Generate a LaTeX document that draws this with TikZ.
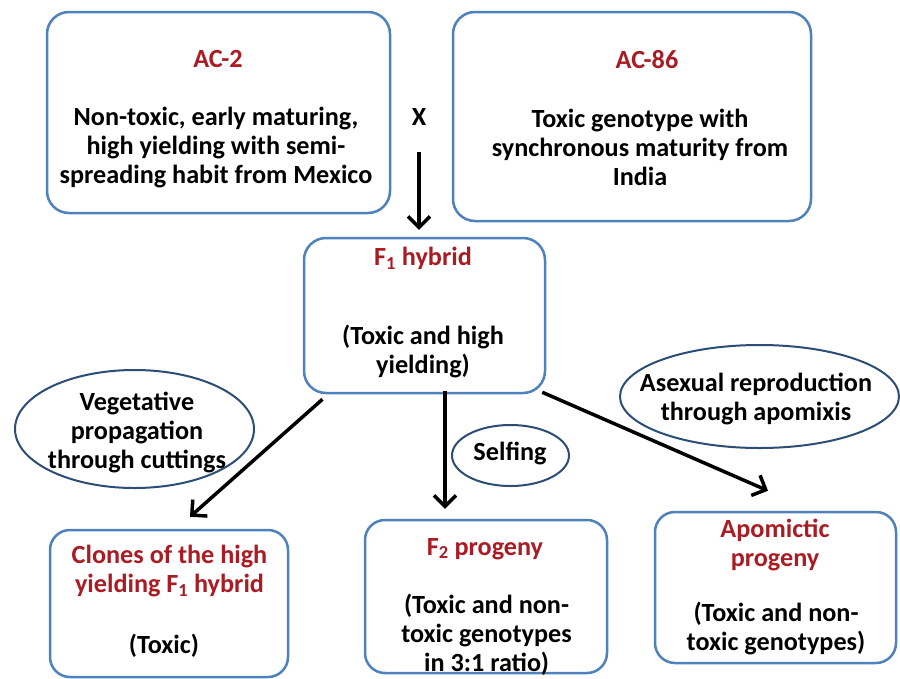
\documentclass[tikz,border=0pt]{standalone}
\usepackage{fontspec}
\setmainfont{Carlito}
\usetikzlibrary{shapes.geometric,arrows.meta,calc}
\definecolor{boxblue}{RGB}{79,129,189}
\definecolor{ovalblue}{RGB}{44,77,117}
\definecolor{titlered}{RGB}{170,28,36}
\newcommand\ls{\rule[-0.25em]{0pt}{0.75em}}
\begin{document}
\begin{tikzpicture}[x=1pt,y=-1pt,
  every node/.style={font=\fontsize{26.2}{29}\selectfont\bfseries},
  stagebox/.style={draw=boxblue, line width=2.5pt, rounded corners=22pt, fill=white, inner sep=0pt},
  oval/.style={draw=ovalblue, ellipse, line width=2pt, inner sep=0pt},
  txt/.style={align=center, inner sep=0pt, text=black},
  ttl/.style={txt, text=titlered},
  arr/.style={line width=3.5pt, -{Straight Barb[length=11pt,width=22pt]}}]
\useasboundingbox[fill=white] (0,0) rectangle (900,678);

% boxes
\node[stagebox, minimum width=343pt, minimum height=201pt] (ac2) at (218.5,112.5) {};
\node[stagebox, minimum width=358pt, minimum height=209pt] (ac86) at (632,116.5) {};
\node[stagebox, minimum width=241pt, minimum height=155pt] (f1) at (424.5,315.5) {};
\node[stagebox, minimum width=238pt, minimum height=147pt, rounded corners=20pt] (clones) at (169,603.5) {};
\node[stagebox, minimum width=242pt, minimum height=153pt, rounded corners=20pt] (f2) at (486,596.5) {};
\node[stagebox, minimum width=241pt, minimum height=151pt, rounded corners=20pt] (apo) at (775.5,587.5) {};

% ovals
\node[oval, minimum width=239pt, minimum height=118pt] (veg) at (134.5,429) {};
\node[oval, minimum width=117pt, minimum height=61pt] (self) at (510.5,455.5) {};
\node[oval, minimum width=279pt, minimum height=103pt] (asex) at (759.5,396.5) {};

% texts
\node[ttl] (ac2t) at (218,62) {\ls AC-2};
\node[txt] (ac2b) at (216,149) {\ls Non-toxic, early maturing,\\ \ls high yielding with semi-\\ \ls spreading habit from Mexico};
\node[ttl] (ac86t) at (647,63) {\ls AC-86};
\node[txt] (ac86b) at (640,151) {\ls Toxic genotype with\\ \ls synchronous maturity from\\ \ls India};
\node[txt] (cross) at (419,120) {\ls X};
\node[ttl] (f1t) at (423,260) {\ls F\textsubscript{1} hybrid};
\node[txt] (f1b) at (423,352.5) {\ls (Toxic and high\\ \ls yielding)};
\node[txt] (vegt) at (137,433.5) {\ls Vegetative\\ \ls propagation\\ \ls through cuttings};
\node[txt] (selft) at (510,455) {\ls Selfing};
\node[txt] (asext) at (756,400) {\ls Asexual reproduction\\ \ls through apomixis};
\node[ttl] (clonest) at (169.5,572) {\ls Clones of the high\\ \ls yielding F\textsubscript{1} hybrid};
\node[txt] (clonesb) at (164,647) {\ls (Toxic)};
\node[ttl] (f2t) at (485,550) {\ls F\textsubscript{2} progeny};
\node[txt] (f2b) at (486.5,636) {\ls (Toxic and non-\\ \ls toxic genotypes\\ \ls in 3:1 ratio)};
\node[ttl] (apot) at (775,546) {\ls Apomictic\\ \ls progeny};
\node[txt] (apob) at (776,630) {\ls (Toxic and non-\\ \ls toxic genotypes)};

% connectors
\coordinate (xs) at (419,152);
\draw[arr] (xs) -- ($(xs |- f1.north)+(0,-7)$);
\draw[arr] ($(f1.south)+(-102,5)$) -- ($(clones.north)+(21,-12)$);
\draw[arr] ($(f1.south)+(20.5,-3)$) -- ($(f2.north)+(-41,-10)$);
\draw[arr] ($(f1.south east)+(-4,-2)$) -- ($(apo.north)+(-7.5,-20)$);
\end{tikzpicture}
\end{document}
